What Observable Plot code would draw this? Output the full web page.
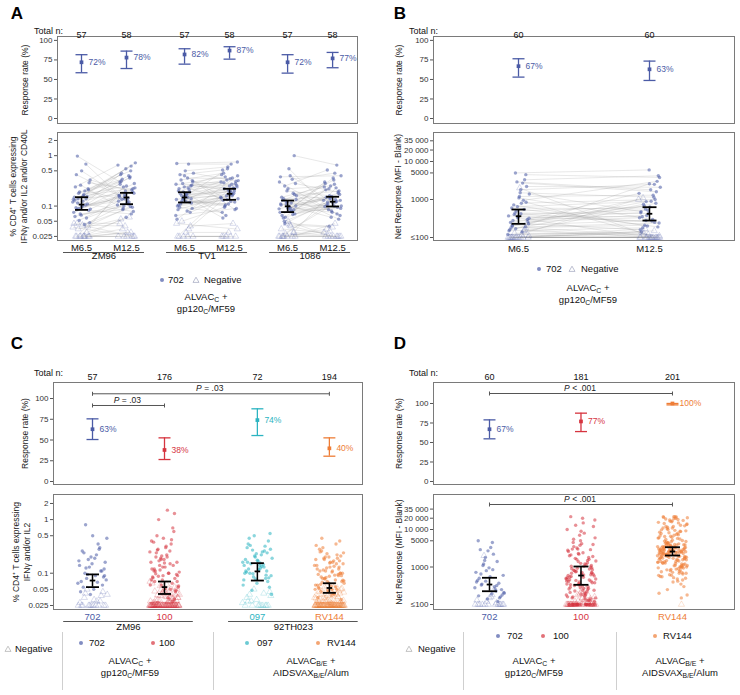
<!DOCTYPE html>
<html><head><meta charset="utf-8">
<script src="https://cdn.jsdelivr.net/npm/d3@7"></script>
<script src="https://cdn.jsdelivr.net/npm/@observablehq/plot@0.6"></script>
<style>
body{margin:0;background:#fff;}
#fig{position:relative;width:740px;height:695px;font-family:"Liberation Sans",Arial,sans-serif;color:#111;overflow:hidden;background:#fff;}
.t{position:absolute;white-space:nowrap;line-height:1;}
.sb{font-size:0.72em;position:relative;top:0.35em;}
.sep{position:absolute;width:0;border-left:1px solid #cfcfcf;}
.dot{position:absolute;width:4px;height:4px;border-radius:50%;transform:translate(-50%,-50%);opacity:0.7;}
</style></head>
<body><div id="fig"></div>
<script>
// ================= DATA =================
const TRIALS = ["702", "100", "097", "RV144"];
const COLORS = ["#4b5ba6", "#d6343f", "#2cb4c1", "#ee7d36"];

// ---- Panel A : ALVAC-C + gp120-C/MF59 (702), by antigen and time ----
const A_antigens = ["ZM96", "TV1", "1086"];
const A_times = ["M6.5", "M12.5"];
const A_totalN = [57, 58, 57, 58, 57, 58];
const A_rate = [72, 78, 82, 87, 72, 77];
const A_rateLo = [58.6, 64, 69.6, 76, 58.1, 65];
const A_rateHi = [81.7, 86.3, 89.3, 91.9, 81.7, 84.6];
const A_median = [0.107, 0.148, 0.148, 0.175, 0.099, 0.122];
const A_medLo = [0.084, 0.109, 0.118, 0.133, 0.076, 0.098];
const A_medHi = [0.150, 0.183, 0.188, 0.220, 0.129, 0.153];

const A_ZM96_M6_pos = [0.98,0.21,0.5,0.13,0.68,0.09,0.33,0.16,0.42,0.11,0.26,0.075,0.2,0.14,0.29,0.1,0.24,0.058,0.19,0.12,0.17,0.085,0.22,0.066,0.15,0.105,0.18,0.047,0.125,0.093,0.155,0.07,0.135,0.043,0.115,0.082,0.097,0.062,0.14,0.052,0.087];
const A_ZM96_M6_neg = [0.025,0.025,0.04,0.025,0.045,0.025,0.035,0.025,0.042,0.025,0.03,0.025,0.038,0.025,0.046,0.025];
const A_ZM96_M12_pos = [0.3,0.62,0.14,0.72,0.11,0.45,0.19,0.55,0.16,0.38,0.09,0.28,0.13,0.42,0.21,0.17,0.65,0.12,0.34,0.078,0.25,0.15,0.5,0.1,0.23,0.145,0.31,0.095,0.2,0.125,0.36,0.085,0.18,0.115,0.27,0.07,0.155,0.105,0.4,0.135,0.22,0.06,0.165,0.098,0.24];
const A_ZM96_M12_neg = [0.025,0.03,0.055,0.025,0.04,0.025,0.06,0.035,0.025,0.025,0.045,0.03,0.025];
const A_TV1_M6_pos = [0.7,0.15,0.33,0.09,0.5,0.2,0.12,0.28,0.065,0.18,0.42,0.14,0.24,0.1,0.68,0.16,0.3,0.125,0.22,0.075,0.19,0.135,0.36,0.11,0.26,0.155,0.085,0.21,0.13,0.45,0.17,0.095,0.25,0.145,0.055,0.23,0.12,0.32,0.16,0.105,0.19,0.14,0.27,0.08,0.175,0.115,0.4];
const A_TV1_M6_neg = [0.025,0.035,0.05,0.025,0.03,0.025,0.04,0.025,0.045,0.025];
const A_TV1_M12_pos = [0.75,0.2,0.45,0.12,0.6,0.3,0.16,0.38,0.09,0.25,0.52,0.18,0.33,0.14,0.68,0.22,0.28,0.11,0.42,0.17,0.065,0.24,0.35,0.13,0.2,0.55,0.15,0.27,0.1,0.31,0.19,0.075,0.23,0.16,0.4,0.125,0.29,0.085,0.21,0.145,0.36,0.105,0.26,0.17,0.058,0.22,0.135,0.32,0.185,0.095];
const A_TV1_M12_neg = [0.025,0.03,0.025,0.045,0.025,0.035,0.025,0.025];
const A_1086_M6_pos = [1.0,0.12,0.38,0.08,0.25,0.1,0.55,0.065,0.18,0.11,0.3,0.09,0.14,0.07,0.22,0.105,0.34,0.06,0.16,0.095,0.13,0.085,0.2,0.075,0.115,0.05,0.28,0.1,0.15,0.068,0.125,0.088,0.4,0.058,0.17,0.092,0.11,0.078,0.045,0.135,0.082];
const A_1086_M6_neg = [0.025,0.03,0.045,0.025,0.04,0.025,0.025,0.05,0.035,0.025,0.028,0.025,0.042,0.025,0.03,0.025];
const A_1086_M12_pos = [0.65,0.14,0.4,0.1,0.52,0.18,0.08,0.3,0.12,0.22,0.065,0.36,0.15,0.095,0.25,0.13,0.45,0.11,0.2,0.075,0.28,0.125,0.16,0.09,0.33,0.105,0.19,0.06,0.24,0.135,0.085,0.17,0.115,0.21,0.07,0.145,0.1,0.27,0.12,0.055,0.155,0.098,0.23,0.04,0.13];
const A_1086_M12_neg = [0.025,0.035,0.025,0.025,0.03,0.045,0.025,0.025,0.038,0.025,0.025,0.032,0.025];

// ---- Panel B : 702, Net MFI, by time ----
const B_times = ["M6.5", "M12.5"];
const B_totalN = [60, 60];
const B_rate = [67, 63];
const B_rateLo = [53, 48.7];
const B_rateHi = [76.5, 73.5];
const B_median = [363, 421];
const B_medLo = [229, 280];
const B_medHi = [545, 627];
const B_M6_pos = [5000,320,1800,210,4500,650,150,2700,400,260,1200,180,3300,500,120,800,280,2200,350,160,950,440,230,1500,600,190,2900,370,140,720,300,1100,250,550,170,1400,420,200,850,330];
const B_M6_neg = [100,100,130,100,2000,100,160,100,100,120,100,240,100,100,150,100,110,100,100,180];
const B_M12_pos = [6000,450,2500,280,3800,900,180,1600,520,330,1300,210,4200,640,140,1000,380,2100,270,750,3000,430,160,1150,560,240,1800,350,800,200,1450,300,680,190,2600,480,250,880];
const B_M12_neg = [100,100,1100,100,120,100,100,170,100,100,140,100,100,1000,100,130,100,100,100,150,100,110];

// ---- Panel C : % CD4+ T cells by trial ----
const C_trials = ["702", "100", "097", "RV144"];
const C_inserts = ["ZM96", "ZM96", "92TH023", "92TH023"];
const C_totalN = [57, 176, 72, 194];
const C_rate = [63, 38, 74, 40];
const C_rateLo = [50.6, 26.5, 55.4, 30.5];
const C_rateHi = [75.5, 52.6, 87.6, 52.6];
const C_median = [0.073, 0.055, 0.108, 0.053];
const C_medLo = [0.055, 0.041, 0.073, 0.043];
const C_medHi = [0.095, 0.070, 0.154, 0.065];
const C_702_pos = [0.8,0.12,0.5,0.07,0.3,0.18,0.45,0.09,0.24,0.06,0.2,0.14,0.35,0.08,0.16,0.05,0.26,0.11,0.13,0.065,0.22,0.1,0.085,0.15,0.045,0.28,0.095,0.075,0.19,0.055,0.11,0.04,0.17,0.068,0.125,0.09];
const C_702_neg = [0.025,0.025,0.03,0.025,0.04,0.025,0.035,0.045,0.025,0.028,0.025,0.05,0.025,0.032,0.025,0.038,0.025,0.025,0.03,0.042,0.025];
const C_100_pos = [1.5,0.2,1.3,0.09,0.4,0.15,1.0,0.07,0.3,0.12,0.7,0.06,0.25,0.1,0.5,0.045,0.18,0.085,0.35,0.14,0.055,0.22,0.11,0.6,0.075,0.16,0.04,0.28,0.095,0.13,0.38,0.065,0.19,0.105,0.035,0.24,0.08,0.45,0.12,0.05,0.17,0.09,0.32,0.07,0.14,0.21,0.06,0.1,0.27,0.048,0.155,0.082,0.42,0.115,0.058,0.2,0.098,0.033,0.13,0.075,0.26,0.088,0.16,0.052,0.11,0.03,0.18];
const C_100_neg = [0.025,0.03,0.025,0.04,0.025,0.025,0.05,0.025,0.035,0.025,0.028,0.025,0.06,0.025,0.025,0.032,0.025,0.045,0.025,0.025,0.038,0.025,0.027,0.025,0.055,0.025,0.025,0.03,0.025,0.042,0.025,0.025,0.034,0.025,0.07,0.025,0.026,0.025,0.048,0.025,0.025,0.031,0.025,0.036,0.025,0.025,0.044,0.025,0.029,0.025,0.052,0.025,0.025,0.033,0.025,0.04,0.025,0.025,0.027,0.025,0.065,0.025,0.025,0.035,0.025,0.046,0.025,0.025,0.03,0.025,0.039,0.025,0.025,0.028,0.025,0.058,0.025,0.025,0.032,0.025,0.043,0.025,0.025,0.026,0.025,0.037,0.025,0.025,0.05,0.025,0.029,0.025,0.025,0.041,0.025,0.034,0.025,0.025,0.062,0.025,0.027,0.025,0.025,0.047,0.025,0.031,0.025,0.025,0.036];
const C_097_pos = [0.55,0.12,0.3,0.08,0.5,0.16,0.22,0.1,0.4,0.065,0.18,0.13,0.27,0.09,0.14,0.35,0.11,0.2,0.075,0.25,0.15,0.055,0.17,0.105,0.32,0.085,0.19,0.125,0.45,0.07,0.23,0.1,0.145,0.048,0.28,0.115,0.16,0.092,0.21,0.06,0.135,0.33,0.082,0.175,0.11,0.26,0.098,0.04,0.155,0.12,0.24,0.078,0.14];
const C_097_neg = [0.025,0.03,0.045,0.025,0.035,0.025,0.05,0.028,0.025,0.04,0.025,0.032,0.025,0.042,0.025,0.038,0.025,0.03,0.025];
const C_RV144_pos = [0.45,0.1,0.2,0.06,0.35,0.08,0.15,0.05,0.25,0.12,0.07,0.18,0.04,0.3,0.09,0.13,0.055,0.22,0.11,0.065,0.16,0.085,0.4,0.045,0.14,0.075,0.19,0.1,0.058,0.28,0.095,0.125,0.05,0.17,0.068,0.21,0.088,0.035,0.15,0.078,0.24,0.105,0.062,0.13,0.048,0.33,0.092,0.115,0.07,0.16,0.052,0.19,0.083,0.14,0.042,0.26,0.1,0.066,0.12,0.056,0.18,0.074,0.038,0.11,0.09,0.23,0.06,0.135,0.08,0.032,0.155,0.095,0.05,0.2,0.072,0.11,0.046,0.17];
const C_RV144_neg = [0.025,0.028,0.025,0.035,0.025,0.025,0.045,0.025,0.03,0.025,0.025,0.04,0.025,0.025,0.032,0.025,0.055,0.025,0.027,0.025,0.025,0.038,0.025,0.025,0.03,0.025,0.048,0.025,0.025,0.034,0.025,0.026,0.025,0.042,0.025,0.025,0.06,0.025,0.029,0.025,0.025,0.036,0.025,0.025,0.031,0.025,0.05,0.025,0.025,0.033,0.025,0.044,0.025,0.025,0.027,0.025,0.039,0.025,0.025,0.052,0.025,0.03,0.025,0.025,0.035,0.025,0.046,0.025,0.028,0.025,0.025,0.041,0.025,0.025,0.033,0.025,0.058,0.025,0.026,0.025,0.025,0.037,0.025,0.025,0.03,0.025,0.043,0.025,0.025,0.032,0.025,0.049,0.025,0.025,0.028,0.025,0.036,0.025,0.025,0.054,0.025,0.029,0.025,0.025,0.04,0.025,0.031,0.025,0.025,0.047,0.025,0.034,0.025,0.025,0.027,0.025];

// ---- Panel D : Net MFI by trial ----
const D_trials = ["702", "100", "RV144"];
const D_totalN = [60, 181, 201];
const D_rate = [67, 77, 100];
const D_rateLo = [54.7, 64, 98.2];
const D_rateHi = [79, 87.6, 100];
const D_median = [341, 593, 2590];
const D_medLo = [226, 335, 2026];
const D_medHi = [516, 1031, 3370];
const D_702_pos = B_M6_pos;
const D_702_neg = B_M6_neg;
const D_100_pos = [22000,450,3000,180,1200,100,700,5000,260,1500,100,380,15000,900,140,2200,520,100,320,4000,650,210,1800,100,480,8000,160,1100,350,2600,100,750,240,20000,560,130,1400,420,100,3500,850,190,2000,300,100,6000,610,150,1000,400,2800,100,230,12000,720,340,1600,100,500,170,4500,950,280,100,1300,440,120,2400,680,100,360,10000,200,800,1900,100,540,270,3200,150,1050,100,420,7000,600,220,1700,100,310,2100,880,100,470,140,5500,380,1250,100,250,760,18000,530,100,2900,330,160,1150,100,640,4200,290,100,920,1450,200,100,700,3800,410,100,13000,580,240,1050,100,2300,350,180,820,100,9000,460,130,1600,100,270,3000,620,100];
const D_100_neg = [100,100,120,100,150,100,100,180,100,130,100,100,200,100,110,100,160,100,100,140,100,100,250,100,120,100,100,170,100,100,135,100,100,190,100,115,100,100,145,100,100,125];
const D_RV144_pos = [22000,2500,800,6000,1500,12000,3200,400,1900,9000,4200,1100,20000,2800,650,3600,1700,15000,2200,500,7000,1300,2600,18000,950,3900,2000,300,5200,1400,2400,10000,1000,3300,21000,700,2900,1600,8000,4600,1200,2700,550,13000,1800,3500,880,6500,2300,16000,3000,1450,250,4800,2100,11000,1050,3800,600,2500,19000,1650,2900,750,5600,2050,14000,1250,3400,450,2600,8500,900,4100,1850,22000,2350,350,3100,1350,7500,2200,1150,17000,2750,680,4400,1550,9500,2450,980,3700,200,5800,2150,12500,1700,3250,820,2650,20500,1400,4900,2950,600,6800,1900,10500,2550,1080,3550,150,2250,15500,1620,4300,2850,720,7800,1950,2400,13500,1120,3150,5100,860,2700,18500,1480,3850,520,2050,8800,2600,1330,21500,3450,940,6200,1780,2900,11500,680,4000,2300,1200,16500,3050,480,5400,1880,2750,9800,1020,3600,180,2450,14500,1560,4700,2200,7200,840,3300,19500,1720,2650,620,5900,2100,1280,3950,11000,2500,760,4500,1820,22000,2950,1100,6600,2350,420,3700,1690,12000,2800,980,8200,2000,3200,1380,17500,2580,560,4150,1930,9200,3500,1250];
const D_RV144_neg = [100];

// tick values
const RATE_TICKS = [0, 25, 50, 75, 100];
const PCT_TICKS = [0.025, 0.05, 0.1, 0.5, 1, 2];
const PCT_LABELS = ["0.025", "0.05", "0.1", "0.5", "1", "2"];
const MFI_TICKS = [100, 1000, 5000, 10000, 20000, 35000];
const MFI_LABELS = ["\u2264100", "1000", "5000", "10 000", "20 000", "35 000"];

// ================= HELPERS =================
const FONT = "'Liberation Sans', Arial, sans-serif";
const FRAME = "#7a7a7a", TICK = "#555", TICKLAB = "#333";
const STYLE = {fontFamily: FONT, fontSize: "9px", background: "transparent", overflow: "visible", color: "#222"};
const hbar = {draw(ctx, size) { const w = Math.sqrt(size / Math.PI); ctx.moveTo(-w, 0); ctx.lineTo(w, 0); }};
const vbar = {draw(ctx, size) { const h = Math.sqrt(size / Math.PI); ctx.moveTo(0, -h); ctx.lineTo(0, h); }};
const jit = i => ((i * 0.6180339887 + 0.27) % 1) - 0.5;
const fig = document.getElementById("fig");

function scatter(pos, pv, nv, trial, halfPx, unitPx, seed) {
  return pv.map(v => [v, false]).concat(nv.map(v => [v, true]))
    .map(([v, neg], i) => ({x: pos + jit(i + seed) * 2 * halfPx / unitPx, v, neg, trial}));
}
function pairLinks(a, b) {
  const out = [];
  for (let i = 0; i < Math.min(a.length, b.length); i++) out.push({x1: a[i].x, y1: a[i].v, x2: b[i].x, y2: b[i].v});
  return out;
}
function bracketMarks(br) {
  if (!br || !br.length) return [];
  const mid = d => (d.x1 + d.x2) / 2;
  const tot = d => 8.2 + d.label.length * 4.3;
  return [
    Plot.link(br, {x1: "x1", x2: "x2", y1: "y", y2: "y", stroke: "#555", strokeWidth: 1}),
    Plot.dot(br, {x: "x1", y: "y", symbol: vbar, r: 2, stroke: "#555", strokeWidth: 1, fill: "none"}),
    Plot.dot(br, {x: "x2", y: "y", symbol: vbar, r: 2, stroke: "#555", strokeWidth: 1, fill: "none"}),
    ...br.map(d => Plot.text([d], {x: mid, y: "y", text: () => "P", fontStyle: "italic", textAnchor: "end", dx: -tot(d) / 2 + 5.7, dy: -5.5, fontSize: 8.5, fill: "#222"})),
    ...br.map(d => Plot.text([d], {x: mid, y: "y", text: "label", textAnchor: "start", dx: -tot(d) / 2 + 8.2, dy: -5.5, fontSize: 8.5, fill: "#222"}))
  ];
}
function yTitle(title, dx) {
  return Plot.text([title], {text: d => d, frameAnchor: "left", textAnchor: "middle", lineAnchor: "middle", rotate: -90, dx, fontSize: 8.5, fill: "#222", lineHeight: 1.3});
}
function topPlot(o) {
  const marks = [
    Plot.frame({stroke: FRAME, strokeWidth: 1}),
    Plot.axisY({ticks: RATE_TICKS, tickSize: 3, tickPadding: 2, fontSize: 8, stroke: TICK, fill: TICKLAB, label: null}),
    yTitle("Response rate (%)", o.titleDx),
    Plot.text(o.stats, {x: "pos", text: "n", frameAnchor: "top", dy: o.nDy, fontSize: 9, fill: "#111"}),
    ...bracketMarks(o.brackets),
    Plot.ruleX(o.stats, {x: "pos", y1: "lo", y2: "hi", stroke: "trial", strokeWidth: 1.3}),
    Plot.dot(o.stats, {x: "pos", y: "lo", symbol: hbar, r: 6, stroke: "trial", strokeWidth: 1.3, fill: "none"}),
    Plot.dot(o.stats, {x: "pos", y: "hi", symbol: hbar, r: 6, stroke: "trial", strokeWidth: 1.3, fill: "none"}),
    Plot.dot(o.stats, {x: "pos", y: "rate", symbol: "square", r: 2.1, fill: "trial", stroke: "none"}),
    Plot.text(o.stats, {x: "pos", y: "rate", text: d => d.rate + "%", dx: 7, textAnchor: "start", fill: "trial", fontSize: 8.5})
  ];
  return Plot.plot({width: o.w, height: o.h, marginLeft: o.ml, marginRight: o.mr, marginTop: o.mt, marginBottom: o.mb,
    x: {type: "linear", domain: o.xdom, axis: null}, y: {type: "linear", domain: o.ydom, axis: null},
    color: {domain: TRIALS, range: COLORS}, style: STYLE, marks});
}
function bottomPlot(o) {
  const xlab = new Map(o.stats.map(d => [d.pos, d.label]));
  const xcol = new Map(o.stats.map(d => [d.pos, d.trial]));
  const marks = [
    Plot.frame({stroke: FRAME, strokeWidth: 1}),
    // tick marks of the log axis; labels added as text (d3's log tickFormat would hide some)
    Plot.axisY({ticks: o.yticks, tickFormat: () => "", tickSize: 3, tickPadding: 2, fontSize: 8, stroke: TICK, fill: TICKLAB, label: null}),
    Plot.text(o.yticks, {y: d => d, text: (d, i) => o.ylabels[i], frameAnchor: "left", textAnchor: "end", dx: -5, fontSize: 8, fill: TICKLAB}),
    Plot.axisX({ticks: o.stats.map(d => d.pos), tickFormat: p => xlab.get(p), tickSize: 0, tickPadding: o.xPad, fontSize: 9.5,
      fill: o.colorLabels ? (p => xcol.get(p)) : "#111", label: null}),
    yTitle(o.title, o.titleDx)
  ];
  if (o.links) marks.push(Plot.link(o.links, {x1: "x1", y1: "y1", x2: "x2", y2: "y2", stroke: "#9a9a9a", strokeWidth: 0.5, strokeOpacity: 0.45}));
  marks.push(
    Plot.dot(o.points.filter(d => d.neg), {x: "x", y: "v", r: 2.3, symbol: "triangle", fill: "none", stroke: "trial", strokeOpacity: 0.35, strokeWidth: 0.6}),
    Plot.dot(o.points.filter(d => !d.neg), {x: "x", y: "v", r: 1.7, fill: "trial", fillOpacity: 0.55, stroke: "none"}),
    ...bracketMarks(o.brackets),
    Plot.ruleX(o.stats, {x: "pos", y1: "mlo", y2: "mhi", stroke: "#000", strokeWidth: 1.5}),
    Plot.dot(o.stats, {x: "pos", y: "mlo", symbol: hbar, r: o.capR, stroke: "#000", strokeWidth: 1.8, fill: "none"}),
    Plot.dot(o.stats, {x: "pos", y: "mhi", symbol: hbar, r: o.capR, stroke: "#000", strokeWidth: 1.8, fill: "none"}),
    Plot.dot(o.stats, {x: "pos", y: "med", symbol: hbar, r: 2.8, stroke: "#000", strokeWidth: 1.8, fill: "none"})
  );
  if (o.groups) marks.push(
    Plot.ruleY(o.groups, {x1: "x1", x2: "x2", y: () => o.ydom[0], dy: o.ulDy, stroke: "#555", strokeWidth: 1}),
    Plot.text(o.groups, {x: "cx", text: "name", frameAnchor: "bottom", dy: o.glDy, fontSize: 9.5, fill: "#111"})
  );
  return Plot.plot({width: o.w, height: o.h, marginLeft: o.ml, marginRight: o.mr, marginTop: o.mt, marginBottom: o.mb,
    x: {type: "linear", domain: o.xdom, axis: null}, y: {type: "log", domain: o.ydom, axis: null},
    color: {domain: TRIALS, range: COLORS}, style: STYLE, marks});
}
function addPlot(p, left, top) { p.style.position = "absolute"; p.style.left = left + "px"; p.style.top = top + "px"; fig.appendChild(p); }
function addText(html, x, y, o = {}) {
  const d = document.createElement("div");
  d.className = "t"; d.innerHTML = html;
  d.style.left = x + "px"; d.style.top = y + "px";
  d.style.fontSize = (o.size || 9.5) + "px";
  d.style.fontWeight = o.weight || "normal";
  d.style.color = o.color || "#111";
  const a = o.anchor || "start";
  d.style.transform = `translate(${a === "middle" ? "-50%" : a === "end" ? "-100%" : "0"}, -50%)`;
  if (a === "middle") d.style.textAlign = "center";
  if (o.lh) d.style.lineHeight = o.lh + "px";
  fig.appendChild(d);
}
function addDot(x, y, color) { const d = document.createElement("div"); d.className = "dot"; d.style.left = x + "px"; d.style.top = y + "px"; d.style.background = color; fig.appendChild(d); }
function addTri(x, y, color) {
  fig.insertAdjacentHTML("beforeend", `<svg width="8" height="8" style="position:absolute;left:${x - 4}px;top:${y - 4}px;overflow:visible"><path d="M4,1.2 L7,6.4 L1,6.4Z" fill="none" stroke="${color}" stroke-width="0.8"/></svg>`);
}
function addSep(x, y1, y2) { const d = document.createElement("div"); d.className = "sep"; d.style.left = x + "px"; d.style.top = y1 + "px"; d.style.height = (y2 - y1) + "px"; fig.appendChild(d); }
const colorOf = t => COLORS[TRIALS.indexOf(t)];

// ================= PANEL A =================
const A_GAP = 1.29, A_UNIT = 45;
const aPos = (g, t) => g * (1 + A_GAP) + t;
const A_scatterData = [[A_ZM96_M6_pos, A_ZM96_M6_neg, A_ZM96_M12_pos, A_ZM96_M12_neg],
  [A_TV1_M6_pos, A_TV1_M6_neg, A_TV1_M12_pos, A_TV1_M12_neg],
  [A_1086_M6_pos, A_1086_M6_neg, A_1086_M12_pos, A_1086_M12_neg]];
const A_stats = [], A_points = [], A_links = [];
A_antigens.forEach((ag, g) => {
  const per = A_times.map((tm, t) => {
    const k = g * 2 + t;
    A_stats.push({label: tm, trial: "702", pos: aPos(g, t), n: A_totalN[k], rate: A_rate[k], lo: A_rateLo[k], hi: A_rateHi[k], med: A_median[k], mlo: A_medLo[k], mhi: A_medHi[k]});
    const pts = scatter(aPos(g, t), A_scatterData[g][t * 2], A_scatterData[g][t * 2 + 1], "702", 9, A_UNIT, 11 * g + 37 * t);
    A_points.push(...pts);
    return pts;
  });
  A_links.push(...pairLinks(per[0], per[1]));
});
const A_groups = A_antigens.map((name, g) => ({name, x1: aPos(g, 0) - 0.4, x2: aPos(g, 1) + 0.4, cx: (aPos(g, 0) + aPos(g, 1)) / 2}));
const A_xdom = [-0.5333, 6.1333];

addPlot(topPlot({w: 370, h: 110, ml: 57, mr: 13, mt: 16, mb: 7, xdom: A_xdom, ydom: [-6.4, 105], stats: A_stats, nDy: -5, titleDx: -33}), 0, 20);
addPlot(bottomPlot({w: 370, h: 145, ml: 57, mr: 13, mt: 7, mb: 30, xdom: A_xdom, ydom: [0.02075, 2.88], yticks: PCT_TICKS, ylabels: PCT_LABELS,
  stats: A_stats, points: A_points, links: A_links, capR: 6.5, groups: A_groups, ulDy: 12, glDy: 18, xPad: 3.5,
  title: "% CD4\u207A T cells expressing\nIFN\u03B3 and/or IL2 and/or CD40L", titleDx: -39.5}), 0, 125);

// ================= PANEL B =================
const B_UNIT = 131;
const B_stats = B_times.map((tm, t) => ({label: tm, trial: "702", pos: t, n: B_totalN[t], rate: B_rate[t], lo: B_rateLo[t], hi: B_rateHi[t], med: B_median[t], mlo: B_medLo[t], mhi: B_medHi[t]}));
const B_p6 = scatter(0, B_M6_pos, B_M6_neg, "702", 11, B_UNIT, 5);
const B_p12 = scatter(1, B_M12_pos, B_M12_neg, "702", 11, B_UNIT, 23);
const B_xdom = [-0.6489, 1.6489];
addPlot(topPlot({w: 370, h: 110, ml: 63, mr: 6, mt: 16, mb: 7, xdom: B_xdom, ydom: [-6.4, 105], stats: B_stats, nDy: -5, titleDx: -35}), 370, 20);
addPlot(bottomPlot({w: 370, h: 145, ml: 63, mr: 6, mt: 7, mb: 30, xdom: B_xdom, ydom: [83.4, 57900], yticks: MFI_TICKS, ylabels: MFI_LABELS,
  stats: B_stats, points: B_p6.concat(B_p12), links: pairLinks(B_p6, B_p12), capR: 7, xPad: 4.5,
  title: "Net Response (MFI - Blank)", titleDx: -36}), 370, 125);

// ================= PANEL C =================
const C_GAP = 0.29, C_UNIT = 72;
const cPos = k => k + (k >= 2 ? C_GAP : 0);
const C_data = [[C_702_pos, C_702_neg], [C_100_pos, C_100_neg], [C_097_pos, C_097_neg], [C_RV144_pos, C_RV144_neg]];
const C_stats = C_trials.map((tr, k) => ({label: tr, trial: tr, pos: cPos(k), n: C_totalN[k], rate: C_rate[k], lo: C_rateLo[k], hi: C_rateHi[k], med: C_median[k], mlo: C_medLo[k], mhi: C_medHi[k]}));
const C_points = C_trials.flatMap((tr, k) => scatter(cPos(k), C_data[k][0], C_data[k][1], tr, 15, C_UNIT, 7 * k));
const C_groups = [["ZM96", 0, 1], ["92TH023", 2, 3]].map(([name, a, b]) => ({name, x1: cPos(a) - 0.4, x2: cPos(b) + 0.4, cx: (cPos(a) + cPos(b)) / 2}));
const C_brackets = [
  {x1: cPos(0), x2: cPos(3), y: 105.7, label: "= .03"},
  {x1: cPos(0), x2: cPos(1), y: 91.6, label: "= .03"}
];
const C_xdom = [-0.5417, 3.75];
addPlot(topPlot({w: 370, h: 128, ml: 53, mr: 8, mt: 20, mb: 6, xdom: C_xdom, ydom: [-3.6, 119.3], stats: C_stats, nDy: -9, titleDx: -29, brackets: C_brackets}), 0, 362);
addPlot(bottomPlot({w: 370, h: 145, ml: 53, mr: 8, mt: 4, mb: 26, xdom: C_xdom, ydom: [0.02104, 2.94], yticks: PCT_TICKS, ylabels: PCT_LABELS,
  stats: C_stats, points: C_points, capR: 6.5, groups: C_groups, ulDy: 12, glDy: 20, xPad: 3.5, colorLabels: true,
  title: "% CD4\u207A T cells expressing\nIFN\u03B3 and/or IL2", titleDx: -32.5}), 0, 490);

// ================= PANEL D =================
const D_UNIT = 91.5;
const D_data = [[D_702_pos, D_702_neg], [D_100_pos, D_100_neg], [D_RV144_pos, D_RV144_neg]];
const D_stats = D_trials.map((tr, k) => ({label: tr, trial: tr, pos: k, n: D_totalN[k], rate: D_rate[k], lo: D_rateLo[k], hi: D_rateHi[k], med: D_median[k], mlo: D_medLo[k], mhi: D_medHi[k]}));
const D_points = D_trials.flatMap((tr, k) => scatter(k, D_data[k][0], D_data[k][1], tr, 15, D_UNIT, 13 * k + 3));
const D_xdom = [-0.612, 2.678];
addPlot(topPlot({w: 370, h: 128, ml: 63, mr: 6, mt: 20, mb: 6, xdom: D_xdom, ydom: [-3.85, 126.9], stats: D_stats, nDy: -9, titleDx: -35,
  brackets: [{x1: 0, x2: 2, y: 112.8, label: "< .001"}]}), 370, 362);
addPlot(bottomPlot({w: 370, h: 145, ml: 63, mr: 6, mt: 4, mb: 26, xdom: D_xdom, ydom: [73.6, 85800], yticks: MFI_TICKS, ylabels: MFI_LABELS,
  stats: D_stats, points: D_points, capR: 7.5, xPad: 3.5, colorLabels: true, brackets: [{x1: 0, x2: 2, y: 46400, label: "< .001"}],
  title: "Net Response (MFI - Blank)", titleDx: -35}), 370, 490);

// ================= TEXT, LEGENDS =================
[["A", 17, 13], ["B", 400, 13], ["C", 17, 343], ["D", 400, 343]].forEach(([s, x, y]) => addText(s, x, y, {anchor: "middle", size: 17, weight: "bold", color: "#000"}));
[[63, 31], [438, 31], [63, 373], [438, 373]].forEach(([x, y]) => addText("Total n:", x, y, {anchor: "end", size: 9}));

const ALVAC_C = 'ALVAC<span class="sb">C</span> +<br>gp120<span class="sb">C</span>/MF59';
const ALVAC_BE = 'ALVAC<span class="sb">B/E</span> +<br>AIDSVAX<span class="sb">B/E</span>/Alum';
const NEG_COL = "#a9adc4";

// A legend
addDot(162, 280, colorOf("702")); addText("702", 168, 280);
addTri(196, 280, NEG_COL); addText("Negative", 204, 280);
addText(ALVAC_C, 206, 303, {anchor: "middle", lh: 10.5});
// B legend
addDot(539, 269, colorOf("702")); addText("702", 546, 269);
addTri(572, 269, NEG_COL); addText("Negative", 581, 269);
addText(ALVAC_C, 588, 294, {anchor: "middle", lh: 10.5});
// C legend
addSep(62, 632, 690); addSep(213, 632, 690);
addTri(8, 649, "#b5b5b5"); addText("Negative", 15, 649);
addDot(81, 643, colorOf("702")); addText("702", 89, 643);
addDot(153, 643, colorOf("100")); addText("100", 159, 643);
addDot(247, 643, colorOf("097")); addText("097", 257, 643);
addDot(318, 643, colorOf("RV144")); addText("RV144", 327, 643);
addText(ALVAC_C, 130, 667, {anchor: "middle", lh: 10.5});
addText(ALVAC_BE, 311, 667, {anchor: "middle", lh: 10.5});
// D legend
addSep(463, 632, 690); addSep(616, 632, 690);
addTri(409, 649, "#b5b5b5"); addText("Negative", 418, 649);
addDot(498, 636, colorOf("702")); addText("702", 507, 636);
addDot(543, 636, colorOf("100")); addText("100", 553, 636);
addDot(655, 636, colorOf("RV144")); addText("RV144", 663, 636);
addText(ALVAC_C, 534, 667, {anchor: "middle", lh: 10.5});
addText(ALVAC_BE, 680, 667, {anchor: "middle", lh: 10.5});
</script></body></html>
